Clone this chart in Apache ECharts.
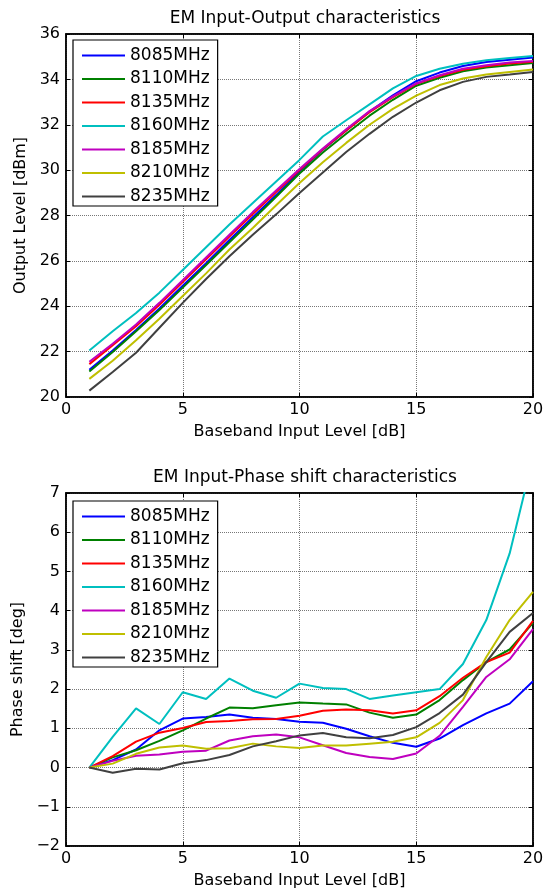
<!DOCTYPE html>
<html>
<head>
<meta charset="utf-8">
<script src="https://cdn.jsdelivr.net/npm/echarts@6/dist/echarts.min.js"></script>
<style>
  html,body{margin:0;padding:0;background:#fff;}
  #chart{width:554px;height:892px;}
</style>
</head>
<body>
<div id="chart"></div>
<script>
// 入力レベル (dB)
var inputLevels = [1,2,3,4,5,6,7,8,9,10,11,12,13,14,15,16,17,18,19,20];
var freqNames = ["8085MHz","8110MHz","8135MHz","8160MHz","8185MHz","8210MHz","8235MHz"];
var lineColors = ["#0000ff","#008000","#ff0000","#00bfbf","#bf00bf","#bfbf00","#404040"];

// 上: Output Level [dBm]
var out8085 = [21.2,22.05,22.95,23.9,24.9,25.9,26.92,27.92,28.9,29.95,30.9,31.75,32.58,33.3,33.92,34.3,34.59,34.77,34.87,34.96];
var out8110 = [21.12,21.98,22.9,23.83,24.82,25.82,26.82,27.82,28.83,29.85,30.78,31.6,32.4,33.1,33.72,34.07,34.36,34.52,34.62,34.72];
var out8135 = [21.45,22.28,23.12,24.07,25.07,26.07,27.07,28.07,29.03,30.0,30.92,31.75,32.55,33.22,33.8,34.15,34.42,34.58,34.7,34.78];
var out8160 = [22.05,22.9,23.7,24.6,25.6,26.6,27.6,28.55,29.5,30.45,31.48,32.2,32.9,33.6,34.15,34.47,34.69,34.84,34.94,35.03];
var out8185 = [21.55,22.35,23.2,24.15,25.15,26.15,27.15,28.15,29.1,30.05,30.95,31.8,32.6,33.25,33.82,34.18,34.47,34.62,34.74,34.81];
var out8210 = [20.8,21.6,22.5,23.45,24.45,25.45,26.5,27.45,28.45,29.43,30.35,31.2,32.0,32.7,33.28,33.75,34.04,34.21,34.33,34.43];
var out8235 = [20.28,21.1,21.95,23.05,24.15,25.2,26.2,27.15,28.05,28.99,29.9,30.8,31.6,32.35,32.98,33.52,33.89,34.11,34.21,34.33];

// 下: Phase shift [deg]
var ph8085 = [0,0.19,0.46,0.95,1.25,1.29,1.35,1.27,1.24,1.17,1.14,0.99,0.8,0.63,0.53,0.74,1.08,1.38,1.63,2.2];
var ph8110 = [0,0.26,0.44,0.68,0.95,1.25,1.53,1.51,1.59,1.66,1.63,1.61,1.4,1.27,1.35,1.72,2.23,2.69,3.01,3.69];
var ph8135 = [0,0.29,0.66,0.89,1.01,1.16,1.19,1.23,1.24,1.32,1.45,1.48,1.46,1.38,1.46,1.82,2.29,2.69,2.93,3.74];
var ph8160 = [0,0.78,1.51,1.11,1.92,1.75,2.27,1.96,1.78,2.14,2.03,2.0,1.75,1.84,1.92,2.0,2.64,3.76,5.46,7.9];
var ph8185 = [0,0.17,0.3,0.33,0.4,0.43,0.69,0.8,0.84,0.77,0.57,0.37,0.27,0.22,0.36,0.81,1.55,2.31,2.76,3.53];
var ph8210 = [0,0.1,0.35,0.51,0.56,0.48,0.49,0.61,0.54,0.5,0.56,0.56,0.61,0.66,0.77,1.14,1.72,2.82,3.76,4.48];
var ph8235 = [0,-0.13,-0.03,-0.05,0.11,0.19,0.32,0.54,0.67,0.82,0.88,0.77,0.75,0.83,1.03,1.39,1.86,2.69,3.46,3.94];

var outData = [out8085,out8110,out8135,out8160,out8185,out8210,out8235];
var phData = [ph8085,ph8110,ph8135,ph8160,ph8185,ph8210,ph8235];

var FONT = "DejaVu Sans";
var txt = {color:"#000",fontFamily:FONT,fontSize:16};
function minusFmt(v){ return String(v).replace("-","\u2212"); }

function pairs(arr){
  return arr.map(function(v,i){ return [inputLevels[i],v]; });
}

// 下側の軸（目盛り・グリッド付き）
function mainX(gi){
  return {
    type:"value",gridIndex:gi,min:0,max:20,interval:5,
    name:"Baseband Input Level [dB]",nameLocation:"middle",nameGap:27,
    nameTextStyle:txt,
    axisLine:{onZero:false,lineStyle:{color:"#000",width:1.5}},
    axisTick:{inside:true,length:4,lineStyle:{color:"#000"}},
    axisLabel:Object.assign({margin:5},txt),
    splitLine:{show:true,lineStyle:{color:"#777",type:"dotted"}}
  };
}
function topX(gi){
  return {
    type:"value",gridIndex:gi,min:0,max:20,interval:5,position:"top",
    axisLine:{onZero:false,lineStyle:{color:"#000",width:1.5}},
    axisTick:{inside:true,length:4,lineStyle:{color:"#000"}},
    axisLabel:{show:false},splitLine:{show:false}
  };
}
function mainY(gi,mn,mx,iv,nm){
  return {
    type:"value",gridIndex:gi,min:mn,max:mx,interval:iv,
    name:nm,nameLocation:"middle",nameGap:31,nameTextStyle:txt,
    axisLine:{onZero:false,lineStyle:{color:"#000",width:1.5}},
    axisTick:{inside:true,length:4,lineStyle:{color:"#000"}},
    axisLabel:Object.assign({margin:6,formatter:minusFmt},txt),
    splitLine:{show:true,lineStyle:{color:"#777",type:"dotted"}}
  };
}
function rightY(gi,mn,mx,iv){
  return {
    type:"value",gridIndex:gi,min:mn,max:mx,interval:iv,position:"right",
    axisLine:{onZero:false,lineStyle:{color:"#000",width:1.5}},
    axisTick:{inside:true,length:4,lineStyle:{color:"#000"}},
    axisLabel:{show:false},splitLine:{show:false}
  };
}

var series = [];
freqNames.forEach(function(nm,k){
  series.push({
    name:nm,type:"line",xAxisIndex:0,yAxisIndex:0,
    data:pairs(outData[k]),symbol:"none",
    lineStyle:{color:lineColors[k],width:2},itemStyle:{color:lineColors[k]}
  });
});
freqNames.forEach(function(nm,k){
  series.push({
    name:nm,type:"line",xAxisIndex:2,yAxisIndex:2,
    data:pairs(phData[k]),symbol:"none",clip:true,
    lineStyle:{color:lineColors[k],width:2},itemStyle:{color:lineColors[k]}
  });
});

function legendBox(top){
  return {
    data:freqNames,orient:"vertical",left:73,top:top,
    itemWidth:43,itemHeight:14,itemGap:6.5,
    padding:[7,8,1,9],
    borderColor:"#000",borderWidth:1.2,backgroundColor:"#fff",
    textStyle:{color:"#000",fontFamily:FONT,fontSize:17},
    icon:"path://M0,6 L43,6 L43,8 L0,8 Z",
    selectedMode:false
  };
}

var myChart = echarts.init(document.getElementById("chart"));
myChart.setOption({
  animation:false,
  title:[
    {text:"EM Input-Output characteristics",left:300,top:5,textAlign:"center",
     textStyle:{color:"#000",fontFamily:FONT,fontSize:17,fontWeight:"normal"}},
    {text:"EM Input-Phase shift characteristics",left:300,top:464,textAlign:"center",
     textStyle:{color:"#000",fontFamily:FONT,fontSize:17,fontWeight:"normal"}}
  ],
  grid:[
    {left:66,top:34,width:467,height:363,show:true,borderColor:"#000",borderWidth:1.5,backgroundColor:"#fff"},
    {left:66,top:493,width:467,height:353,show:true,borderColor:"#000",borderWidth:1.5,backgroundColor:"#fff"}
  ],
  legend:[legendBox(40),legendBox(501)],
  xAxis:[mainX(0),topX(0),mainX(1),topX(1)],
  yAxis:[
    mainY(0,20,36,2,"Output Level [dBm]"),rightY(0,20,36,2),
    mainY(1,-2,7,1,"Phase shift [deg]"),rightY(1,-2,7,1)
  ],
  series:series
});
</script>
</body>
</html>
